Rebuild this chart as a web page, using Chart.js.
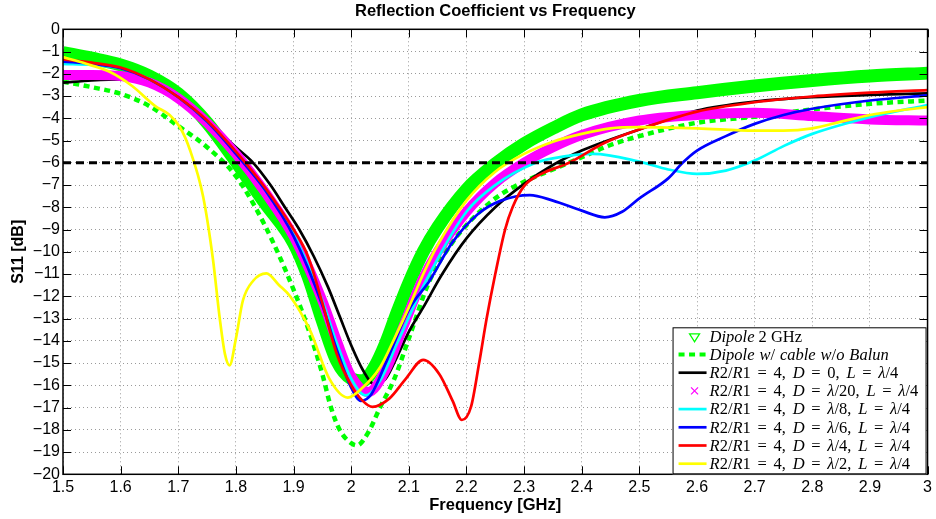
<!DOCTYPE html>
<html>
<head>
<meta charset="utf-8">
<title>Reflection Coefficient vs Frequency</title>
<script src="https://cdn.jsdelivr.net/npm/chart.js@4/dist/chart.umd.min.js"></script>
<style>
  html, body { margin: 0; padding: 0; background: #ffffff; }
  #chart { display: block; }
</style>
</head>
<body>
<canvas id="chart" width="936" height="519"></canvas>
<script>
// ---- axis ticks ----
const xTicks = [1.5, 1.6, 1.7, 1.8, 1.9, 2.0, 2.1, 2.2, 2.3, 2.4, 2.5, 2.6, 2.7, 2.8, 2.9, 3.0];
const yTicks = [0, -1, -2, -3, -4, -5, -6, -7, -8, -9, -10, -11, -12, -13, -14, -15, -16, -17, -18, -19, -20];
const thresholdDb = -6;

// ---- measured S11 curves (frequency in GHz, S11 in dB) ----
const dipoleF   = [1.5, 1.55, 1.6, 1.65, 1.7, 1.75, 1.8, 1.85, 1.9, 1.925, 1.95, 1.975, 2.0, 2.02, 2.04, 2.06, 2.08, 2.1, 2.125, 2.15, 2.2, 2.25, 2.3, 2.35, 2.4, 2.5, 2.6, 2.7, 2.8, 2.9, 3.0];
const dipoleS11 = [-1.05, -1.3, -1.6, -2.1, -2.9, -4.2, -5.95, -7.8, -9.6, -11.1, -13.1, -14.9, -15.7, -15.8, -15.2, -14.1, -12.7, -11.4, -10.0, -8.9, -7.2, -6.05, -5.15, -4.45, -3.85, -3.2, -2.85, -2.55, -2.3, -2.1, -1.97];

const cableF   = [1.5, 1.55, 1.6, 1.65, 1.7, 1.75, 1.8, 1.85, 1.9, 1.93, 1.95, 1.965, 1.98, 2.0, 2.01, 2.03, 2.05, 2.075, 2.1, 2.136, 2.175, 2.2, 2.25, 2.3, 2.35, 2.4, 2.45, 2.5, 2.6, 2.7, 2.8, 2.9, 3.0];
const cableS11 = [-2.35, -2.6, -2.9, -3.45, -4.35, -5.3, -6.6, -8.8, -11.7, -13.8, -15.5, -17.0, -18.0, -18.6, -18.7, -18.1, -17.0, -15.7, -13.9, -11.3, -9.6, -8.8, -7.6, -6.85, -6.3, -5.75, -5.2, -4.8, -4.2, -3.93, -3.6, -3.35, -3.2];

const d0F   = [1.5, 1.55, 1.6, 1.65, 1.7, 1.75, 1.8, 1.83, 1.86, 1.885, 1.91, 1.935, 1.96, 1.98, 2.0, 2.02, 2.04, 2.06, 2.08, 2.1, 2.125, 2.158, 2.2, 2.25, 2.3, 2.35, 2.4, 2.45, 2.5, 2.6, 2.7, 2.8, 2.9, 3.0];
const d0S11 = [-2.4, -2.3, -2.25, -2.45, -3.1, -4.1, -5.3, -6.0, -7.0, -8.0, -9.0, -10.2, -11.6, -12.9, -14.2, -15.3, -15.95, -15.7, -14.7, -13.6, -12.5, -11.0, -9.4, -8.0, -6.95, -6.1, -5.45, -4.95, -4.5, -3.65, -3.25, -3.05, -2.95, -2.88];

const d20F   = [1.5, 1.55, 1.6, 1.65, 1.7, 1.75, 1.8, 1.85, 1.9, 1.95, 1.975, 2.0, 2.03, 2.06, 2.09, 2.123, 2.15, 2.2, 2.25, 2.3, 2.35, 2.4, 2.5, 2.6, 2.7, 2.8, 2.9, 3.0];
const d20S11 = [-2.05, -2.05, -2.1, -2.4, -3.1, -4.2, -5.6, -7.3, -9.3, -12.2, -14.0, -15.6, -16.3, -15.3, -13.4, -11.3, -10.0, -8.2, -6.9, -6.0, -5.3, -4.75, -4.1, -3.85, -3.75, -3.9, -4.05, -4.1];

const d8F   = [1.5, 1.55, 1.6, 1.65, 1.7, 1.75, 1.8, 1.85, 1.9, 1.95, 1.975, 2.0, 2.025, 2.05, 2.08, 2.13, 2.2, 2.25, 2.32, 2.35, 2.42, 2.5, 2.55, 2.6, 2.65, 2.7, 2.75, 2.8, 2.9, 3.0];
const d8S11 = [-1.55, -1.6, -1.75, -2.25, -3.05, -4.15, -5.55, -7.2, -9.2, -12.2, -14.1, -15.7, -16.45, -15.8, -14.1, -11.3, -8.2, -7.0, -6.0, -5.8, -5.6, -5.95, -6.3, -6.5, -6.35, -5.9, -5.25, -4.7, -3.95, -3.4];

const d6F   = [1.5, 1.55, 1.6, 1.65, 1.7, 1.75, 1.8, 1.85, 1.9, 1.95, 1.975, 2.0, 2.017, 2.035, 2.06, 2.1, 2.136, 2.175, 2.22, 2.26, 2.31, 2.35, 2.4, 2.44, 2.47, 2.5, 2.55, 2.575, 2.6, 2.65, 2.7, 2.75, 2.8, 2.9, 3.0];
const d6S11 = [-1.45, -1.55, -1.75, -2.25, -3.05, -4.15, -5.6, -7.2, -9.3, -12.4, -14.4, -16.1, -16.7, -16.4, -15.0, -12.6, -11.3, -9.6, -8.3, -7.7, -7.45, -7.7, -8.15, -8.45, -8.2, -7.6, -6.7, -6.0, -5.45, -4.8, -4.25, -3.85, -3.57, -3.2, -2.97];

const d4F   = [1.5, 1.55, 1.6, 1.65, 1.7, 1.75, 1.8, 1.85, 1.9, 1.925, 1.95, 1.975, 2.0, 2.02, 2.037, 2.066, 2.095, 2.125, 2.153, 2.176, 2.192, 2.208, 2.222, 2.235, 2.25, 2.267, 2.28, 2.3, 2.33, 2.378, 2.44, 2.5, 2.6, 2.7, 2.8, 2.9, 3.0];
const d4S11 = [-1.35, -1.5, -1.72, -2.25, -3.05, -4.1, -5.5, -7.1, -9.0, -10.2, -12.3, -14.6, -16.0, -16.7, -16.97, -16.6, -15.7, -14.86, -15.5, -16.7, -17.56, -16.96, -15.0, -13.0, -11.0, -9.0, -8.0, -7.05, -6.5, -6.0, -5.1, -4.5, -3.7, -3.28, -3.02, -2.85, -2.73];

const d2F   = [1.5, 1.54, 1.58, 1.62, 1.66, 1.685, 1.703, 1.72, 1.743, 1.76, 1.772, 1.781, 1.789, 1.8, 1.812, 1.83, 1.853, 1.875, 1.894, 1.928, 1.962, 1.994, 2.02, 2.05, 2.075, 2.1, 2.125, 2.15, 2.2, 2.25, 2.3, 2.35, 2.4, 2.45, 2.5, 2.6, 2.7, 2.75, 2.8, 2.85, 2.9, 2.95, 3.0];
const d2S11 = [-1.25, -1.55, -1.9, -2.55, -3.45, -3.85, -4.4, -5.4, -7.5, -10.3, -13.0, -14.6, -15.1, -13.9, -12.2, -11.3, -10.97, -11.5, -12.0, -13.5, -15.7, -16.55, -16.1, -15.2, -13.9, -12.5, -11.0, -9.7, -7.7, -6.4, -5.6, -5.05, -4.7, -4.45, -4.4, -4.45, -4.55, -4.55, -4.45, -4.15, -3.85, -3.65, -3.5];

// ---- series styling; labels use $...$ for math (italic letters) ----
const series = [
  { label: '$Dipole$ 2 GHz', f: dipoleF, s: dipoleS11, color: '#00ff00', width: 13, mark: 'triangle' },
  { label: '$Dipole w/ cable w/o Balun$', f: cableF, s: cableS11, color: '#00ff00', width: 4.5, dash: [6, 4.5] },
  { label: '$R2/R1 = 4, D = 0, L = \u03bb/4$', f: d0F, s: d0S11, color: '#000000', width: 2.7 },
  { label: '$R2/R1 = 4, D = \u03bb/20, L = \u03bb/4$', f: d20F, s: d20S11, color: '#ff00ff', width: 10, mark: 'cross' },
  { label: '$R2/R1 = 4, D = \u03bb/8, L = \u03bb/4$', f: d8F, s: d8S11, color: '#00ffff', width: 2.7 },
  { label: '$R2/R1 = 4, D = \u03bb/6, L = \u03bb/4$', f: d6F, s: d6S11, color: '#0000ff', width: 2.7 },
  { label: '$R2/R1 = 4, D = \u03bb/4, L = \u03bb/4$', f: d4F, s: d4S11, color: '#ff0000', width: 2.7 },
  { label: '$R2/R1 = 4, D = \u03bb/2, L = \u03bb/4$', f: d2F, s: d2S11, color: '#ffff00', width: 2.7 }
];

const sansFamily = '"Liberation Sans", Arial, Helvetica, sans-serif';
const serifFamily = '"Liberation Serif", "Times New Roman", serif';

const datasets = series.map((sr, i) => ({
  label: sr.label.replace(/\$/g, ''),
  data: sr.f.map((fx, j) => ({ x: fx, y: sr.s[j] })),
  borderColor: sr.color,
  backgroundColor: sr.color,
  borderWidth: sr.width,
  borderDash: sr.dash || [],
  borderCapStyle: 'butt',
  borderJoinStyle: 'round',
  pointRadius: 0,
  fill: false,
  tension: 0.4,
  cubicInterpolationMode: 'monotone',
  order: series.length - i
}));

// -6 dB reference line
datasets.push({
  label: 'threshold',
  data: [{ x: xTicks[0], y: thresholdDb }, { x: xTicks[xTicks.length - 1], y: thresholdDb }],
  borderColor: '#000000',
  borderWidth: 3,
  borderDash: [8, 5],
  borderCapStyle: 'butt',
  pointRadius: 0,
  fill: false,
  order: 0
});

// Axes frame with inward tick marks on all four sides
const axesFrame = {
  id: 'axesFrame',
  afterDatasetsDraw(chart) {
    const { ctx, chartArea: a, scales: { x, y } } = chart;
    const len = 8;
    ctx.save();
    ctx.strokeStyle = '#000';
    ctx.lineWidth = 1;
    ctx.beginPath();
    x.ticks.forEach(t => {
      const px = Math.round(x.getPixelForValue(t.value)) + 0.5;
      ctx.moveTo(px, a.bottom); ctx.lineTo(px, a.bottom - len);
      ctx.moveTo(px, a.top); ctx.lineTo(px, a.top + len);
    });
    y.ticks.forEach(t => {
      const py = Math.round(y.getPixelForValue(t.value)) + 0.5;
      ctx.moveTo(a.left, py); ctx.lineTo(a.left + len, py);
      ctx.moveTo(a.right, py); ctx.lineTo(a.right - len, py);
    });
    ctx.stroke();
    ctx.lineWidth = 1.5;
    ctx.strokeRect(a.left, a.top, a.right - a.left, a.bottom - a.top);
    ctx.restore();
  }
};

// Draw a label where $...$ segments are math: letters italic, digits/symbols upright;
// spaces next to "=" or after "," get extra room like TeX relation spacing
function drawRichText(ctx, text, x, y, size) {
  const relGap = 2.6;
  const parts = text.split('$');
  parts.forEach((part, i) => {
    const math = i % 2 === 1;
    const tokens = math ? (part.match(/[A-Za-z\u03bb]+| +|[^A-Za-z\u03bb ]+/g) || []) : [part];
    tokens.forEach((tok, k) => {
      const italic = math && /[A-Za-z\u03bb]/.test(tok);
      ctx.font = (italic ? 'italic ' : '') + size + 'px ' + serifFamily;
      if (math && /^ +$/.test(tok)) {
        const prev = tokens[k - 1] || '', next = tokens[k + 1] || '';
        const rel = /[=,]$/.test(prev) || /^=/.test(next);
        x += ctx.measureText(tok).width + (rel ? relGap : 0.8);
        return;
      }
      ctx.fillText(tok, x, y);
      x += ctx.measureText(tok).width;
    });
  });
}

// Legend box in the lower-right corner of the plot
const cornerLegend = {
  id: 'cornerLegend',
  afterDraw(chart) {
    const { ctx, chartArea: a } = chart;
    const w = 254, h = 147, rowH = 18.2;
    const right = a.right - 1, bottom = a.bottom;
    const left = right - w, top = bottom - h;
    ctx.save();
    ctx.fillStyle = '#fff';
    ctx.fillRect(left, top, w, h);
    ctx.strokeStyle = '#000';
    ctx.lineWidth = 1;
    ctx.strokeRect(left + 0.5, top + 0.5, w - 1, h - 1);
    ctx.textBaseline = 'middle';
    ctx.textAlign = 'left';
    series.forEach((sr, i) => {
      const cy = top + 9 + i * rowH;
      const x0 = left + 6, x1 = left + 34, cx = (x0 + x1) / 2 + 2;
      ctx.strokeStyle = sr.color;
      ctx.fillStyle = sr.color;
      if (sr.mark === 'triangle') {
        ctx.lineWidth = 1.3;
        ctx.setLineDash([]);
        ctx.beginPath();
        ctx.moveTo(cx - 5, cy - 2.5);
        ctx.lineTo(cx + 5, cy - 2.5);
        ctx.lineTo(cx, cy + 5.5);
        ctx.closePath();
        ctx.stroke();
      } else if (sr.mark === 'cross') {
        ctx.lineWidth = 1.2;
        ctx.setLineDash([]);
        ctx.beginPath();
        ctx.moveTo(cx - 3.5, cy - 3.5); ctx.lineTo(cx + 3.5, cy + 3.5);
        ctx.moveTo(cx + 3.5, cy - 3.5); ctx.lineTo(cx - 3.5, cy + 3.5);
        ctx.stroke();
      } else {
        ctx.lineWidth = Math.min(sr.width, 4);
        ctx.setLineDash(sr.dash || []);
        ctx.beginPath();
        ctx.moveTo(x0, cy); ctx.lineTo(x1, cy);
        ctx.stroke();
      }
      ctx.setLineDash([]);
      ctx.fillStyle = '#000';
      drawRichText(ctx, sr.label, left + 37, cy + 1, 16.5);
    });
    ctx.restore();
  }
};

const fmtX = v => String(Number(v.toFixed(1)));
const fmtY = v => (v < 0 ? '\u2212' + Math.abs(v) : String(v));

new Chart(document.getElementById('chart'), {
  type: 'line',
  data: { datasets },
  options: {
    responsive: false,
    animation: false,
    devicePixelRatio: 1,
    layout: { padding: { left: 0, right: 7, top: 0, bottom: 0 } },
    plugins: {
      legend: { display: false },
      tooltip: { enabled: false },
      title: {
        display: true,
        text: 'Reflection Coefficient vs Frequency',
        color: '#000',
        fullSize: false,
        font: { family: sansFamily, size: 16.5, weight: 'bold' },
        padding: { top: 1.5, bottom: 8 }
      }
    },
    scales: {
      x: {
        type: 'linear',
        min: xTicks[0],
        max: xTicks[xTicks.length - 1],
        afterBuildTicks: s => { s.ticks = xTicks.map(v => ({ value: v })); },
        afterFit: s => { s.height = 44.7; },
        ticks: {
          color: '#000',
          font: { family: sansFamily, size: 16 },
          padding: 4,
          maxRotation: 0,
          autoSkip: false,
          callback: v => fmtX(v)
        },
        grid: { color: '#9a9a9a', lineWidth: 1, drawTicks: false },
        border: { display: false, dash: [1, 3] },
        title: {
          display: true,
          text: 'Frequency [GHz]',
          color: '#000',
          font: { family: sansFamily, size: 16.5, weight: 'bold' },
          padding: { top: 0, bottom: 4 }
        }
      },
      y: {
        type: 'linear',
        min: yTicks[yTicks.length - 1],
        max: yTicks[0],
        afterBuildTicks: s => { s.ticks = yTicks.map(v => ({ value: v })); },
        afterFit: s => { s.width = 63; },
        ticks: {
          color: '#000',
          font: { family: sansFamily, size: 16 },
          padding: 3,
          autoSkip: false,
          callback: v => fmtY(v)
        },
        grid: { color: '#9a9a9a', lineWidth: 1, drawTicks: false },
        border: { display: false, dash: [1, 3] },
        title: {
          display: true,
          text: 'S11 [dB]',
          color: '#000',
          font: { family: sansFamily, size: 16, weight: 'bold' },
          padding: { top: 9, bottom: 0 }
        }
      }
    }
  },
  plugins: [axesFrame, cornerLegend]
});
</script>
</body>
</html>
